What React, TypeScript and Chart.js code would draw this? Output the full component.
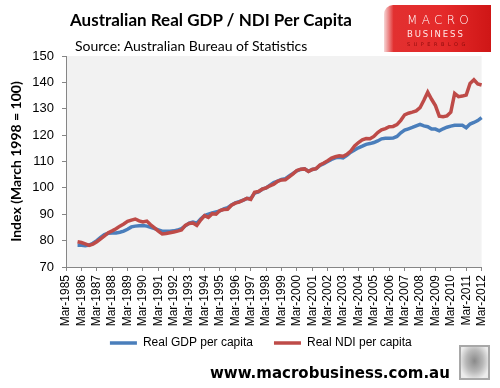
import React, { useEffect, useRef } from "react";
import { Chart, registerables } from "chart.js";

Chart.register(...registerables);

// Quarterly categories Mar-1985 .. Mar-2012
const MONTHS = ["Mar", "Jun", "Sep", "Dec"];
const FIRST_YEAR = 1985;
const LAST_YEAR = 2012;
const categories: string[] = [];
for (let y = FIRST_YEAR; y <= LAST_YEAR; y++) {
  for (const m of MONTHS) {
    if (y === LAST_YEAR && m !== "Mar") break;
    categories.push(`${m}-${y}`);
  }
}

// Series start Dec-1985 (first three quarters empty)
const gdpPerCapita: (number | null)[] = [
  null, null, null,
  78.2, 78.2, 78.1, 78.3, 79.0, 80.0, 81.2, 82.3, 82.8, 82.9,
  82.9, 83.2, 83.6, 84.3, 85.2, 85.5, 85.6, 85.7, 85.5, 85.0,
  84.6, 84.1, 83.6, 83.6, 83.6, 83.7, 84.0, 84.5, 85.6, 86.6,
  87.0, 86.6, 88.2, 89.5, 90.0, 90.5, 90.9, 91.3, 92.0, 92.5,
  93.5, 94.3, 94.8, 95.3, 96.0, 96.0, 98.0, 98.5, 99.5, 100.0,
  101.0, 102.0, 102.6, 103.2, 103.5, 104.5, 105.5, 106.5, 107.0, 107.2,
  106.3, 107.0, 107.3, 108.5, 109.2, 110.0, 110.8, 111.4, 111.6, 111.4,
  112.3, 113.5, 114.4, 115.2, 115.8, 116.5, 116.8, 117.2, 117.8, 118.6,
  118.8, 118.8, 118.9, 119.5, 120.9, 121.9, 122.4, 122.9, 123.5, 124.1,
  123.5, 123.2, 122.3, 122.3, 121.6, 122.4, 123.0, 123.4, 123.7, 123.7,
  123.7, 122.8, 124.2, 124.8, 125.5, 126.6,
];

const ndiPerCapita: (number | null)[] = [
  null, null, null,
  79.6, 79.3, 78.8, 78.2, 78.7, 79.6, 80.7, 81.8, 83.0, 83.7,
  84.5, 85.5, 86.3, 87.3, 87.8, 88.2, 87.5, 87.1, 87.4, 86.0,
  84.8, 83.6, 82.5, 82.7, 83.0, 83.3, 83.6, 84.0, 85.8, 86.5,
  86.7, 85.8, 87.8, 89.5, 88.8, 90.2, 90.0, 91.4, 91.8, 91.9,
  93.4, 94.2, 94.6, 95.3, 96.0, 95.6, 98.3, 98.6, 99.5, 100.0,
  100.8, 101.4, 102.5, 103.0, 103.1, 104.2, 105.3, 106.6, 107.1, 107.2,
  106.2, 107.0, 107.3, 108.7, 109.4, 110.3, 111.3, 111.8, 112.2, 112.0,
  112.7, 114.0, 115.9, 117.2, 118.2, 118.7, 118.6, 119.5, 121.0, 122.0,
  122.5, 123.2, 123.3, 124.0, 125.6, 127.7, 128.3, 128.7, 129.2, 130.4,
  133.2, 136.3, 133.6, 131.2, 127.2, 127.0, 127.3, 128.7, 135.8, 134.6,
  134.8, 135.2, 139.6, 141.0, 139.4, 139.0,
];

const seriesNames = ["Real GDP per capita", "Real NDI per capita"];
const yMin = 70;
const yMax = 150;
const yStep = 10;

const plotBg = {
  id: "plotBg",
  beforeDraw(chart: any) {
    const { ctx, chartArea } = chart;
    if (!chartArea) return;
    ctx.save();
    ctx.fillStyle = "#f2f2f2";
    ctx.fillRect(chartArea.left, chartArea.top, chartArea.right - chartArea.left, chartArea.bottom - chartArea.top);
    ctx.restore();
  },
};

// nudge the legend box to sit where the original's legend sits
const legendNudge = {
  id: "legendNudge",
  afterLayout(chart: any) {
    const lg = chart.legend;
    if (!lg) return;
    lg.top -= 13;
    lg.bottom -= 13;
    lg.left -= 13;
    lg.right -= 13;
  },
};

function LineChart() {
  const ref = useRef<HTMLCanvasElement>(null);
  useEffect(() => {
    if (!ref.current) return;
    const chart = new Chart(ref.current, {
      type: "line",
      data: {
        labels: categories,
        datasets: [
          {
            label: seriesNames[0],
            data: gdpPerCapita,
            borderColor: "#4a7ebb",
            backgroundColor: "#4a7ebb",
            borderWidth: 3.5,
            pointRadius: 0,
            tension: 0,
            order: 1,
          },
          {
            label: seriesNames[1],
            data: ndiPerCapita,
            borderColor: "#be4b48",
            backgroundColor: "#be4b48",
            borderWidth: 3.5,
            pointRadius: 0,
            tension: 0,
            order: 0,
          },
        ],
      },
      options: {
        animation: false,
        responsive: false,
        maintainAspectRatio: false,
        layout: { padding: { top: 56, left: 0, right: 17, bottom: 16 } },
        plugins: {
          tooltip: { enabled: false },
          legend: {
            display: true,
            position: "bottom",
            fullSize: false,
            labels: {
              usePointStyle: true,
              pointStyle: "line",
              pointStyleWidth: 27,
              padding: 21,
              color: "#000",
              font: { family: "'Liberation Sans', Arial, sans-serif", size: 12 },
              sort: (a: any, b: any) => a.datasetIndex - b.datasetIndex,
            },
          },
        },
        scales: {
          x: {
            type: "category",
            offset: false,
            grid: {
              drawOnChartArea: false,
              drawTicks: true,
              tickLength: 4,
              color: "#868686",
            },
            border: { display: true, color: "#868686" },
            ticks: {
              autoSkip: false,
              maxRotation: 90,
              minRotation: 90,
              padding: 4,
              color: "#000",
              font: { family: "'Liberation Sans', Arial, sans-serif", size: 12 },
              callback: function (this: any, _v: any, index: number) {
                return index % 4 === 0 ? categories[index] : null;
              },
            },
            afterFit: (scale: any) => {
              scale.height = 62;
            },
          },
          y: {
            min: yMin,
            max: yMax,
            grid: {
              drawOnChartArea: false,
              drawTicks: true,
              tickLength: 4,
              color: "#868686",
            },
            border: { display: true, color: "#868686" },
            ticks: {
              stepSize: yStep,
              padding: 8,
              color: "#000",
              font: { family: "'Liberation Sans', Arial, sans-serif", size: 13 },
            },
            title: {
              display: true,
              text: "Index (March 1998 = 100)",
              color: "#000",
              padding: { top: 8, bottom: 0 },
              font: { family: "Lato, sans-serif", size: 14, weight: "bold" },
            },
            afterFit: (scale: any) => {
              scale.width = 66;
            },
          },
        },
      },
      plugins: [plotBg, legendNudge],
    } as any);
    return () => chart.destroy();
  }, []);
  return <canvas ref={ref} width={500} height={388} style={{ position: "absolute", left: 0, top: 0, width: 500, height: 388 }} />;
}

export default function App() {
  return (
    <div style={{ position: "absolute", left: 0, top: 0, width: 500, height: 388, background: "#fff", overflow: "hidden" }}>
      <LineChart />
      <div style={{ position: "absolute", left: 70, top: 8, fontFamily: "Lato, sans-serif", fontWeight: 700, fontSize: 17, color: "#000", whiteSpace: "nowrap", lineHeight: "24px" }}>
        Australian Real GDP / NDI Per Capita
      </div>
      <div style={{ position: "absolute", left: 75, top: 37, fontFamily: "Lato, sans-serif", fontSize: 14, color: "#000", whiteSpace: "nowrap", lineHeight: "18px" }}>
        Source: Australian Bureau of Statistics
      </div>
      <div style={{ position: "absolute", left: 384, top: 5, width: 107, height: 47, borderTopLeftRadius: 9, background: "linear-gradient(90deg, #f6d6d6 0%, #e23030 9%, #e52a2a 55%, #cf1616 100%)", overflow: "hidden" }}>
        <div style={{ position: "absolute", left: 23, top: 8, fontFamily: "'DejaVu Sans', sans-serif", fontWeight: 300, fontSize: 12, letterSpacing: 4.3, color: "#fff", lineHeight: "14px" }}>MACRO</div>
        <div style={{ position: "absolute", left: 23, top: 24, fontFamily: "'DejaVu Sans', sans-serif", fontSize: 8.5, letterSpacing: 1.9, color: "#ffe8e8", lineHeight: "10px" }}>BUSINESS</div>
        <div style={{ position: "absolute", left: 23, top: 36, fontFamily: "'DejaVu Sans', sans-serif", fontSize: 5, letterSpacing: 3.5, color: "#8e0c0c", lineHeight: "6px" }}>SUPERBLOG</div>
      </div>
      <div style={{ position: "absolute", left: 210, top: 362, fontFamily: "'DejaVu Sans', sans-serif", fontWeight: 700, fontSize: 15, color: "#000", whiteSpace: "nowrap", lineHeight: "22px" }}>
        www.macrobusiness.com.au
      </div>
      <div style={{ position: "absolute", left: 459, top: 345, width: 27, height: 31, border: "2px solid #a8a8a8", background: "radial-gradient(ellipse at 50% 45%, #8a8a8a 0%, #b8b8b8 45%, #ececec 80%)" }} />
    </div>
  );
}
